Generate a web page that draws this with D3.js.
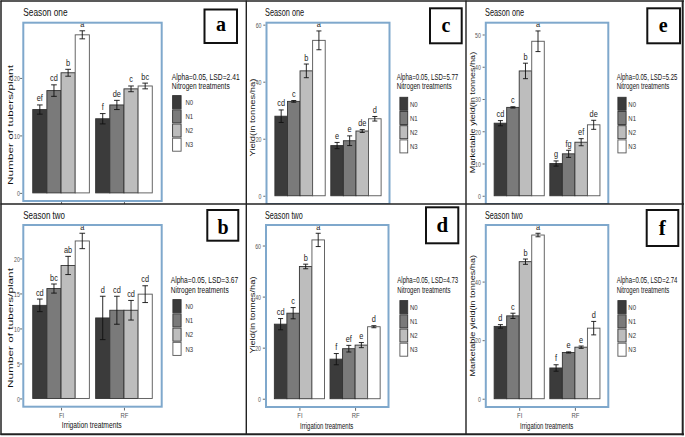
<!DOCTYPE html>
<html><head><meta charset="utf-8">
<script src="https://cdn.jsdelivr.net/npm/d3@7"></script>
<style>body{margin:0;background:#fff}svg{display:block}</style>
</head><body>
<svg id="fig" width="685" height="437"></svg>
<script>
// ---------------- DATA ----------------
const irrigation = ["FI", "RF"];
const nitrogen = ["N0", "N1", "N2", "N3"];
const nitrogenFill = ["#3b3b3b", "#7a7a7a", "#bdbdbd", "#ffffff"];
const alpha = "0.05";
// order of values: FI N0..N3, RF N0..N3
const tubersS1 = [14.5, 17.8, 20.9, 27.5, 12.9, 15.3, 18.1, 18.6];
const tubersS1Err = [0.8, 1.0, 0.6, 0.7, 0.9, 0.8, 0.5, 0.5];
const tubersS1Letters = ["ef", "cd", "b", "a", "f", "de", "c", "bc"];
const tubersS2 = [13.3, 15.7, 19.0, 22.5, 11.5, 12.6, 12.6, 14.9];
const tubersS2Err = [0.9, 0.65, 1.3, 1.1, 3.1, 2.0, 1.4, 1.2];
const tubersS2Letters = ["cd", "bc", "ab", "a", "d", "cd", "cd", "cd"];
const yieldS1 = [27.9, 33.1, 43.8, 54.5, 17.6, 19.3, 22.7, 27.0];
const yieldS1Err = [2.2, 0.3, 2.4, 3.3, 1.1, 1.7, 0.5, 0.8];
const yieldS1Letters = ["cd", "c", "b", "a", "e", "e", "de", "d"];
const yieldS2 = [29.2, 33.5, 51.8, 62.2, 15.5, 19.6, 21.0, 28.2];
const yieldS2Err = [2.2, 2.2, 0.9, 2.6, 2.2, 1.3, 1.0, 0.4];
const yieldS2Letters = ["cd", "c", "b", "a", "f", "ef", "e", "d"];
const mktS1 = [22.5, 27.4, 38.7, 47.9, 10.0, 13.0, 16.6, 22.0];
const mktS1Err = [0.8, 0.2, 2.4, 3.2, 0.8, 1.1, 1.1, 1.4];
const mktS1Letters = ["cd", "c", "b", "a", "g", "fg", "ef", "de"];
const mktS2 = [24.7, 28.3, 46.8, 55.9, 10.5, 15.8, 17.6, 24.1];
const mktS2Err = [0.6, 0.9, 0.9, 0.6, 1.1, 0.2, 0.4, 2.3];
const mktS2Letters = ["d", "c", "b", "a", "f", "e", "e", "d"];
const lsdValues = ["2.41", "3.67", "5.77", "4.73", "5.25", "2.74"];
const panelLetters = ["a", "b", "c", "d", "e", "f"];
const seasonTitles = ["Season one", "Season two", "Season one", "Season two", "Season one", "Season two"];
const yTitles = ["Number of tubers/plant", "Number of tubers/plant", "Yield(in tonnes/ha)", "Yield(in tonnes/ha)",
  "Marketable yield(in tonnes/ha)", "Marketable yield(in tonnes/ha)"];
const yTicks = [[0, 10, 20], [0, 5, 10, 15, 20], [0, 20, 40, 60], [0, 20, 40, 60], [0, 10, 20, 30, 40, 50], [0, 20, 40]];
const xTitle = "Irrigation treatments";
const legendTitle = "Nitrogen treatments";
const seriesVals = [tubersS1, tubersS2, yieldS1, yieldS2, mktS1, mktS2];
const seriesErr = [tubersS1Err, tubersS2Err, yieldS1Err, yieldS2Err, mktS1Err, mktS2Err];
const seriesLetters = [tubersS1Letters, tubersS2Letters, yieldS1Letters, yieldS2Letters, mktS1Letters, mktS2Letters];

// ---------------- LAYOUT ----------------
const layout = [
  {cell:[1,1,246.3,204], frame:[23.3,22.7,161.7,201], title:[23.3,16,44.3], yt:[10.3,125,120,0.66], gap:3.5, xlab:false,
   leg:[171.7,79.5,89.3,68,58,172,95,9.7,14.2,185.5], box:[204.5,9.5,32.5,33.5,221,31,20], xt:[92.5,60]},
  {cell:[1,204,246.3,434.3], frame:[23.3,225,161.7,406.7], title:[23.3,219,41.7], yt:[10.3,328,120,0.66], gap:3.5, xlab:true,
   leg:[170.7,283.3,292.8,67.7,58,172.3,299,9.4,14.25,185.5], box:[207.3,210,31,30.7,223,233.5,20], xt:[91.7,60]},
  {cell:[246.3,1,466,204], frame:[266.5,22.7,389.5,204], title:[265,16,39.3], yt:[253.3,117.5,78,0.72], gap:5, xlab:false,
   leg:[396.7,79.5,89.3,61.7,55,399.3,96.7,9,14.2,410], box:[430,8.3,31.7,35,446,31.7,20], xt:[328,53.3]},
  {cell:[246.3,204,466,434.3], frame:[266,225,388.5,407], title:[265,219,37.7], yt:[253.3,315,77,0.72], gap:5, xlab:true,
   leg:[397.3,283,292.5,61,53.3,399.3,300,9,14.2,410], box:[426,207.3,32.3,36,442.3,231.7,21], xt:[326.7,53.3]},
  {cell:[466,1,682.7,204], frame:[485.8,22.7,608.3,204], title:[485,16,39.3], yt:[473.3,112.5,121.6,0.72], gap:5, xlab:false,
   leg:[616.7,79.5,89.3,60.7,52.7,617.3,96.7,9.4,14.2,628.3], box:[647.3,8.3,32.7,35,663.3,31.7,20], xt:[547,53.3]},
  {cell:[466,204,682.7,434.3], frame:[485.8,225,608.3,407], title:[485,219,37.7], yt:[473.3,315.8,121.7,0.72], gap:5, xlab:true,
   leg:[616.7,283,292.5,60.7,52.7,617.3,300,9.4,14.2,628.3], box:[646.7,210,31.6,36,662.3,235,21], xt:[546.7,53.3]}
];

const FONT = "'Liberation Sans', Arial, Helvetica, sans-serif";
const svg = d3.select("#fig");
svg.append("rect").attr("width", 685).attr("height", 437).attr("fill", "#fff");

function label(g, str, x, y, o) {
  const t = g.append("text").text(str)
    .attr("font-family", o.family || FONT)
    .attr("font-size", o.size)
    .attr("fill", o.fill || "#000")
    .attr("font-weight", o.weight || "normal")
    .attr("text-anchor", o.anchor || "start");
  if (o.baseline) t.attr("dominant-baseline", o.baseline);
  let sx = o.sx || 1;
  if (o.w) { const L = t.node().getComputedTextLength(); sx = o.w / L; }
  t.attr("transform", `translate(${x},${y}) scale(${sx},1)`);
  return t;
}
function vlabel(g, str, x, y, len, thick) {
  const t = g.append("text").text(str).attr("font-family", FONT).attr("font-size", 10).attr("fill", "#111");
  const L = t.node().getComputedTextLength();
  t.attr("font-size", 10 * len / L).attr("text-anchor", "middle").attr("dominant-baseline", "central")
   .attr("transform", `translate(${x},${y}) scale(${thick},1) rotate(-90)`);
}

const defs = svg.append("defs");

layout.forEach((L, p) => {
  const [cx0, cy0, cx1, cy1] = L.cell;
  defs.append("clipPath").attr("id", "clip" + p).append("rect")
    .attr("x", cx0).attr("y", cy0).attr("width", cx1 - cx0).attr("height", cy1 - cy0);
  const g = svg.append("g").attr("clip-path", `url(#clip${p})`);
  const [fx0, fy0, fx1, fy1] = L.frame;
  const vals = seriesVals[p], errs = seriesErr[p], lets = seriesLetters[p];

  const x = d3.scalePoint().domain(irrigation).range([fx0, fx1]).padding(0.6);
  const step = x.step();
  const xn = d3.scaleBand().domain(nitrogen).range([-0.45 * step, 0.45 * step]);
  const M = d3.max(vals.map((v, i) => v + errs[i]));
  const y = d3.scaleLinear().domain([-0.05 * M, 1.05 * M]).range([fy1, fy0]);

  const rows = irrigation.flatMap((irr, i) => nitrogen.map((n, j) => ({
    irr, n, j, v: vals[i * 4 + j], e: errs[i * 4 + j], L: lets[i * 4 + j]
  })));
  const bw = xn.bandwidth();

  // y axis
  const ya = g.append("g").attr("transform", `translate(${fx0 - 1},0)`)
    .call(d3.axisLeft(y).tickValues(yTicks[p]).tickSize(2.2).tickFormat(d3.format("d")));
  ya.select(".domain").remove();
  ya.selectAll(".tick line").attr("stroke", "#444").attr("stroke-width", 0.8);
  ya.selectAll(".tick text").attr("x", null).attr("dy", null)
    .attr("font-family", FONT).attr("font-size", 7).attr("fill", "#555")
    .attr("text-anchor", "end").attr("dominant-baseline", "central")
    .attr("transform", `translate(${-L.gap + 1},0) scale(0.75,1)`);

  // x axis (labels are cut off by the panel border in the season-one row)
  const xa = g.append("g").attr("transform", `translate(0,${fy1 + 1})`)
    .call(d3.axisBottom(x).tickSize(2.8));
  xa.select(".domain").remove();
  xa.selectAll(".tick line").attr("stroke", "#444").attr("stroke-width", 0.8);
  if (L.xlab) {
    xa.selectAll(".tick text").attr("y", null).attr("dy", null)
      .attr("font-family", FONT).attr("font-size", 7).attr("fill", "#555")
      .attr("text-anchor", "middle")
      .attr("transform", `translate(0,9.8) scale(0.85,1)`);
  } else {
    xa.selectAll(".tick text").remove();
  }

  // bars
  g.append("g").selectAll("rect").data(rows).join("rect")
    .attr("x", d => x(d.irr) + xn(d.n))
    .attr("y", d => y(d.v))
    .attr("width", bw)
    .attr("height", d => y(0) - y(d.v))
    .attr("fill", d => nitrogenFill[d.j])
    .attr("stroke", d => d.j === 3 ? "#555" : "#333")
    .attr("stroke-width", 0.9);

  // error bars
  const eb = g.append("g").attr("stroke", "#111").attr("stroke-width", 0.9);
  rows.forEach(d => {
    const cx = x(d.irr) + xn(d.n) + bw / 2, cw = bw * 0.2;
    eb.append("line").attr("x1", cx).attr("x2", cx).attr("y1", y(d.v - d.e)).attr("y2", y(d.v + d.e));
    eb.append("line").attr("x1", cx - cw).attr("x2", cx + cw).attr("y1", y(d.v - d.e)).attr("y2", y(d.v - d.e));
    eb.append("line").attr("x1", cx - cw).attr("x2", cx + cw).attr("y1", y(d.v + d.e)).attr("y2", y(d.v + d.e));
  });

  // letters
  rows.forEach(d => {
    label(g, d.L, x(d.irr) + xn(d.n) + bw / 2, y(d.v + d.e) - 3.5, {size: 9, sx: 0.82, anchor: "middle", fill: "#222"});
  });

  // blue panel frame
  g.append("rect").attr("x", fx0).attr("y", fy0).attr("width", fx1 - fx0).attr("height", fy1 - fy0)
    .attr("fill", "none").attr("stroke", "#7fa8cc").attr("stroke-width", 2);

  // titles
  label(g, seasonTitles[p], L.title[0], L.title[1], {size: 10.5, w: L.title[2], fill: "#111"});
  vlabel(g, yTitles[p], L.yt[0], L.yt[1], L.yt[2], L.yt[3]);
  if (L.xlab) label(g, xTitle, L.xt[0], fy1 + 21.5, {size: 9.5, w: L.xt[1], anchor: "middle", fill: "#111"});

  // legend
  const lg = L.leg;
  label(g, `Alpha=${alpha}, LSD=${lsdValues[p]}`, lg[0], lg[1], {size: 8.5, w: lg[3], fill: "#111"});
  label(g, legendTitle, lg[0], lg[2], {size: 8.5, w: lg[4], fill: "#111"});
  nitrogen.forEach((n, j) => {
    g.append("rect").attr("x", lg[5] + 0.6).attr("y", lg[6] + j * lg[8] + 0.6)
      .attr("width", lg[7] - 1.2).attr("height", lg[8] - 1.2)
      .attr("fill", nitrogenFill[j]).attr("stroke", j === 3 ? "#555" : "#333").attr("stroke-width", 0.9);
    label(g, n, lg[9], lg[6] + j * lg[8] + lg[8] / 2, {size: 7.5, sx: 0.8, fill: "#333", baseline: "central"});
  });

  // letter box
  const b = L.box;
  g.append("rect").attr("x", b[0]).attr("y", b[1]).attr("width", b[2]).attr("height", b[3])
    .attr("fill", "#fff").attr("stroke", "#111").attr("stroke-width", 2);
  label(g, panelLetters[p], b[4], b[5], {size: b[6], anchor: "middle", weight: "bold",
    family: "'Liberation Serif', 'Times New Roman', serif", fill: "#000"});
});

// figure borders
const bd = svg.append("g").attr("stroke", "#222").attr("fill", "none");
bd.append("line").attr("x1", 1).attr("x2", 1).attr("y1", 0.5).attr("y2", 435).attr("stroke-width", 1.5);
bd.append("line").attr("x1", 0.5).attr("x2", 684).attr("y1", 1).attr("y2", 1).attr("stroke-width", 1.5);
bd.append("line").attr("x1", 682.7).attr("x2", 682.7).attr("y1", 0.5).attr("y2", 435.3).attr("stroke-width", 2);
bd.append("line").attr("x1", 0.5).attr("x2", 684).attr("y1", 434.3).attr("y2", 434.3).attr("stroke-width", 2);
bd.append("line").attr("x1", 246.3).attr("x2", 246.3).attr("y1", 0.5).attr("y2", 435).attr("stroke-width", 1.4);
bd.append("line").attr("x1", 466).attr("x2", 466).attr("y1", 0.5).attr("y2", 435).attr("stroke-width", 1.4);
bd.append("line").attr("x1", 0.5).attr("x2", 684).attr("y1", 204).attr("y2", 204).attr("stroke-width", 1.4);
</script>
</body></html>
